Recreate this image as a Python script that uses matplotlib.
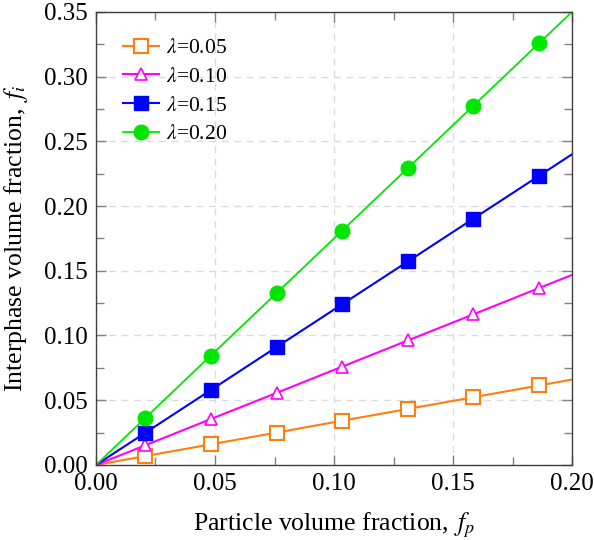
import matplotlib
matplotlib.use('Agg')
import matplotlib.pyplot as plt
from matplotlib.ticker import MultipleLocator, FormatStrFormatter

plt.rcParams['font.family'] = ['Liberation Serif', 'DejaVu Serif']
plt.rcParams['mathtext.fontset'] = 'stix'

# particle volume fraction (first/last are the line end points)
fp = [0.0, 0.0206, 0.0482, 0.0759, 0.1035, 0.1312, 0.1585, 0.1862, 0.20]

fi_005 = [0.0, 0.0068, 0.0159, 0.0250, 0.0342, 0.0433, 0.0523, 0.0614, 0.0660]
fi_010 = [0.0, 0.0151, 0.0354, 0.0557, 0.0760, 0.0963, 0.1163, 0.1367, 0.1468]
fi_015 = [0.0, 0.0247, 0.0578, 0.0911, 0.1242, 0.1574, 0.1902, 0.2234, 0.2400]
fi_020 = [0.0, 0.0361, 0.0844, 0.1328, 0.1811, 0.2296, 0.2774, 0.3259, 0.3500]

labels = [r'$\lambda$=0.05', r'$\lambda$=0.10', r'$\lambda$=0.15', r'$\lambda$=0.20']

fig = plt.figure(figsize=(5.94, 5.40), dpi=100)
ax = fig.add_axes([0.1616, 0.139, 0.8014, 0.839])

mk = slice(1, -1)
ax.plot(fp, fi_005, color='#ff7f0e', lw=1.5, marker='s', ms=9.5, mfc='white',
        mec='#ff7f0e', mew=1.5, markevery=mk, label=labels[0])
ax.plot(fp, fi_010, color='#ff00ff', lw=1.5, marker='^', ms=9, mfc='white',
        mec='#ff00ff', mew=1.2, markevery=mk, label=labels[1])
ax.plot(fp, fi_015, color='#0000ff', lw=1.5, marker='s', ms=10,
        markevery=mk, label=labels[2])
ax.plot(fp, fi_020, color='#00e600', lw=1.3, marker='o', ms=10.5,
        markevery=mk, label=labels[3])

ax.set_xlim(0, 0.20)
ax.set_ylim(0, 0.35)
ax.xaxis.set_major_locator(MultipleLocator(0.05))
ax.xaxis.set_minor_locator(MultipleLocator(0.025))
ax.yaxis.set_major_locator(MultipleLocator(0.05))
ax.yaxis.set_minor_locator(MultipleLocator(0.025))
ax.xaxis.set_major_formatter(FormatStrFormatter('%.2f'))
ax.yaxis.set_major_formatter(FormatStrFormatter('%.2f'))

ax.tick_params(which='both', direction='in', top=True, right=True,
               color='#808080', width=1.0, labelsize=18, pad=6)
ax.tick_params(which='major', length=7)
ax.tick_params(which='minor', length=6)
for s in ax.spines.values():
    s.set_color('#404040')
    s.set_linewidth(1.0)

ax.grid(True, which='major', ls=(0, (5, 4)), color='#dcdcdc', lw=1.0)
ax.set_axisbelow(True)

ax.set_xlabel(r'Particle volume fraction, $\,f_p$', fontsize=18.5, labelpad=11)
ax.set_ylabel(r'Interphase volume fraction, $\,f_i$', fontsize=18.5, labelpad=10)

ax.legend(loc='upper left', frameon=False, fontsize=15.5, handlelength=1.7,
          handletextpad=0.3, labelspacing=0.4, borderaxespad=0.4,
          bbox_to_anchor=(0.02, 0.98))

fig.savefig('out.png', dpi=100)
